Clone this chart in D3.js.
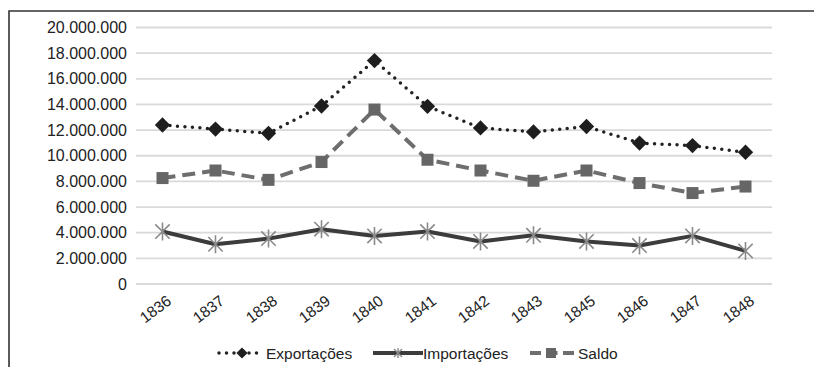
<!DOCTYPE html>
<html>
<head>
<meta charset="utf-8">
<script src="https://cdn.jsdelivr.net/npm/d3@7/dist/d3.min.js"></script>
<style>
  html, body { margin: 0; padding: 0; background: #fff; }
  svg { display: block; font-family: "Liberation Sans", Arial, sans-serif; }
</style>
</head>
<body>
<svg id="chart" width="814" height="367"></svg>
<script>
// Balança comercial, 1836–1848
const years = ["1836", "1837", "1838", "1839", "1840", "1841", "1842", "1843", "1845", "1846", "1847", "1848"];
const exportacoes = [12400000, 12080000, 11750000, 13880000, 17420000, 13850000, 12170000, 11860000, 12280000, 10990000, 10790000, 10270000];
const importacoes = [4090000, 3100000, 3540000, 4270000, 3750000, 4090000, 3320000, 3800000, 3320000, 3000000, 3750000, 2580000];
const saldo = [8260000, 8850000, 8120000, 9510000, 13600000, 9690000, 8850000, 8050000, 8850000, 7870000, 7090000, 7600000];
const yTicks = [0, 2000000, 4000000, 6000000, 8000000, 10000000, 12000000, 14000000, 16000000, 18000000, 20000000];
const seriesNames = ["Exportações", "Importações", "Saldo"];

const svg = d3.select("#chart");
const W = 814, H = 367;
const plot = { left: 136, right: 772, top: 27.5, bottom: 284 };

// outer frame (top and left edges visible inside the page)
svg.append("path")
  .attr("d", `M9,${H + 2} L9,11 L${W + 2},11`)
  .attr("fill", "none").attr("stroke", "#333").attr("stroke-width", 1.6);

const x = d3.scaleBand().domain(years).range([plot.left, plot.right]);
const cx = d => x(d) + x.bandwidth() / 2;
const y = d3.scaleLinear().domain([0, 20000000]).range([plot.bottom, plot.top]);

const fmt = v => d3.format(",")(v).replace(/,/g, ".");

// horizontal gridlines
svg.append("g").selectAll("line").data(yTicks).join("line")
  .attr("x1", plot.left).attr("x2", plot.right)
  .attr("y1", d => y(d)).attr("y2", d => y(d))
  .attr("stroke", "#d9d9d9").attr("stroke-width", 1.8);

// y axis labels
const yAxis = d3.axisLeft(y).tickValues(yTicks).tickFormat(fmt).tickSize(0).tickPadding(9);
const gy = svg.append("g").attr("transform", `translate(${plot.left},0)`).call(yAxis);
gy.select(".domain").remove();
gy.selectAll("text").attr("font-size", 16).attr("fill", "#222")
  .attr("font-family", "'Liberation Sans', Arial, sans-serif");

// x axis labels, rotated
const xAxis = d3.axisBottom(x).tickSize(0).tickPadding(0);
const gx = svg.append("g").attr("transform", `translate(0,${plot.bottom})`).call(xAxis);
gx.select(".domain").remove();
gx.selectAll("text")
  .attr("font-size", 15.5).attr("fill", "#222")
  .attr("font-family", "'Liberation Sans', Arial, sans-serif")
  .attr("text-anchor", "end")
  .attr("dy", null).attr("y", 0)
  .attr("transform", "translate(10,19) rotate(-37)");

const line = d3.line().x((d, i) => cx(years[i])).y(d => y(d));

// Saldo: dashed grey with square markers
svg.append("path").datum(saldo).attr("d", line)
  .attr("fill", "none").attr("stroke", "#6e6e6e").attr("stroke-width", 4)
  .attr("stroke-dasharray", "13,7");
svg.append("g").selectAll("rect").data(saldo).join("rect")
  .attr("x", (d, i) => cx(years[i]) - 6).attr("y", d => y(d) - 6)
  .attr("width", 12).attr("height", 12).attr("fill", "#666");

// Importações: solid dark with asterisk markers
svg.append("path").datum(importacoes).attr("d", line)
  .attr("fill", "none").attr("stroke", "#3c3c3c").attr("stroke-width", 4)
  .attr("stroke-linejoin", "round");
const star = (px, py, r) => {
  const a = r * 0.8;
  return `M${px - a},${py - a}L${px + a},${py + a}M${px - a},${py + a}L${px + a},${py - a}M${px},${py - r}L${px},${py + r}`;
};
svg.append("g").selectAll("path").data(importacoes).join("path")
  .attr("d", (d, i) => star(cx(years[i]), y(d), 9))
  .attr("stroke", "#8a8a8a").attr("stroke-width", 1.6).attr("fill", "none");

// Exportações: dotted black with diamond markers
svg.append("path").datum(exportacoes).attr("d", line)
  .attr("fill", "none").attr("stroke", "#222").attr("stroke-width", 3.5)
  .attr("stroke-dasharray", "0,7.5").attr("stroke-linecap", "round");
const diamond = d3.symbol().type(d3.symbolDiamond2).size(150);
svg.append("g").selectAll("path").data(exportacoes).join("path")
  .attr("d", diamond)
  .attr("transform", (d, i) => `translate(${cx(years[i])},${y(d)})`)
  .attr("fill", "#1e1e1e");

// legend
const legendY = 353;
const lg = svg.append("g").attr("font-size", 15.5).attr("fill", "#222");
// Exportações
lg.append("line").attr("x1", 219).attr("x2", 262).attr("y1", legendY).attr("y2", legendY)
  .attr("stroke", "#222").attr("stroke-width", 3.5).attr("stroke-dasharray", "0,7.5").attr("stroke-linecap", "round");
lg.append("path").attr("d", d3.symbol().type(d3.symbolDiamond2).size(80))
  .attr("transform", `translate(242,${legendY})`).attr("fill", "#1e1e1e");
lg.append("text").attr("x", 266).attr("y", legendY + 5.5).text(seriesNames[0]);
// Importações
lg.append("line").attr("x1", 373).attr("x2", 423).attr("y1", legendY).attr("y2", legendY)
  .attr("stroke", "#3c3c3c").attr("stroke-width", 4);
lg.append("path").attr("d", star(398, legendY, 5))
  .attr("stroke", "#8a8a8a").attr("stroke-width", 1.4).attr("fill", "none");
lg.append("text").attr("x", 423).attr("y", legendY + 5.5).text(seriesNames[1]);
// Saldo
lg.append("line").attr("x1", 530).attr("x2", 574).attr("y1", legendY).attr("y2", legendY)
  .attr("stroke", "#6e6e6e").attr("stroke-width", 4).attr("stroke-dasharray", "11,5.5");
lg.append("rect").attr("x", 546).attr("y", legendY - 5).attr("width", 10).attr("height", 10).attr("fill", "#666");
lg.append("text").attr("x", 578).attr("y", legendY + 5.5).text(seriesNames[2]);
</script>
</body>
</html>
